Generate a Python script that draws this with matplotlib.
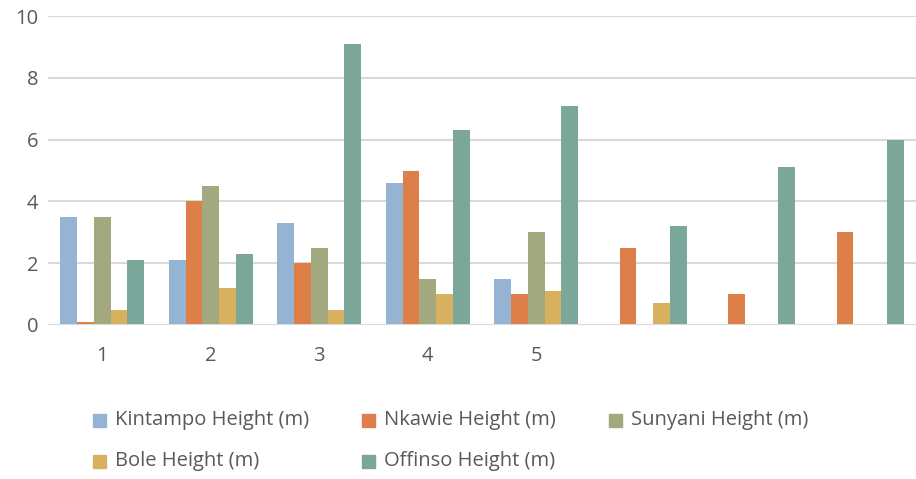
import numpy as np
import matplotlib
matplotlib.use("Agg")
import matplotlib.pyplot as plt
from matplotlib.patches import Rectangle

categories = [1, 2, 3, 4, 5, 6, 7, 8]
tick_labels = ["1", "2", "3", "4", "5", "", "", ""]

series_names = ["Kintampo Height (m)", "Nkawie Height (m)", "Sunyani Height (m)",
                "Bole Height (m)", "Offinso Height (m)"]
kintampo = [3.5, 2.1, 3.3, 4.6, 1.5, np.nan, np.nan, np.nan]
nkawie = [0.1, 4.0, 2.0, 5.0, 1.0, 2.5, 1.0, 3.0]
sunyani = [3.5, 4.5, 2.5, 1.5, 3.0, np.nan, np.nan, np.nan]
bole = [0.5, 1.2, 0.5, 1.0, 1.1, 0.7, np.nan, np.nan]
offinso = [2.1, 2.3, 9.1, 6.3, 7.1, 3.2, 5.1, 6.0]

colors = ["#95B3D3", "#DD7F48", "#A3A97E", "#D8B160", "#7BA79B"]

plt.rcParams['font.family'] = ['Open Sans', 'DejaVu Sans']
text_color = "#595959"

W, H = 916, 479
fig = plt.figure(figsize=(W / 100, H / 100), dpi=100)
ax = fig.add_axes([48 / W, 1 - 325 / H, 868 / W, 309 / H])

x = np.arange(len(categories))
width = 0.155
all_series = [kintampo, nkawie, sunyani, bole, offinso]
for i, (vals, name, c) in enumerate(zip(all_series, series_names, colors)):
    ax.bar(x + (i - 2) * width, vals, width, color=c, label=name, zorder=3)

ax.set_xlim(-0.5, len(categories) - 0.5)
ax.set_ylim(0, 10)
ax.set_yticks([0, 2, 4, 6, 8, 10])
ax.set_xticks(x)
ax.set_xticklabels(tick_labels)
ax.grid(axis='y', color="#D9D9D9", linewidth=1.5, zorder=0)
for s in ax.spines.values():
    s.set_visible(False)
ax.tick_params(length=0, labelsize=14.5, colors=text_color)
ax.tick_params(axis='x', pad=15)
ax.tick_params(axis='y', pad=7)
ax.axhline(0, color="#D9D9D9", linewidth=1.5, zorder=4)

# legend laid out in two rows, three columns (row-major)
legend_pos = [(93, 420), (362, 420), (609, 420), (93, 461), (362, 461)]
box = 13
for (px, py), name, c in zip(legend_pos, series_names, colors):
    fig.patches.append(Rectangle((px / W, 1 - (py + box / 2) / H), box / W, box / H,
                                 transform=fig.transFigure, color=c))
    fig.text((px + 22) / W, 1 - py / H, name, fontsize=14.5, color=text_color,
             ha='left', va='center')

fig.savefig("out.png", dpi=100)
